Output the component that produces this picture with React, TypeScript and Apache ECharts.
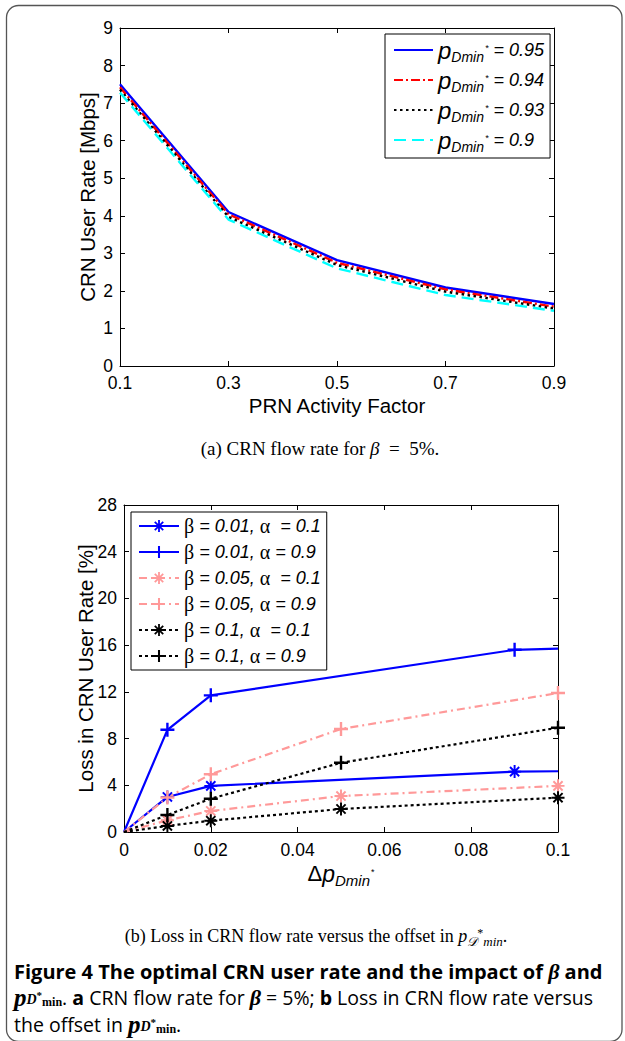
import React, { useEffect, useRef } from "react";
import * as echarts from "echarts";

// ---------- Data: panel (a) ----------
const activityFactor = [0.1, 0.3, 0.5, 0.7, 0.9];
const activityTicks = [0.1, 0.3, 0.5, 0.7, 0.9];
const rate095 = [7.5, 4.1, 2.82, 2.09, 1.65];
const rate094 = [7.42, 4.04, 2.75, 2.04, 1.58];
const rate093 = [7.36, 3.97, 2.69, 1.98, 1.53];
const rate090 = [7.28, 3.9, 2.6, 1.89, 1.47];
const topLegendValues = ["0.95", "0.94", "0.93", "0.9"];

// ---------- Data: panel (b) ----------
const offsetBlue = [0, 0.01, 0.02, 0.09, 0.1];
const offsetOther = [0, 0.01, 0.02, 0.05, 0.1];
const lossB001A01 = [0, 3.0, 3.95, 5.17, 5.2];
const lossB001A09 = [0, 8.75, 11.7, 15.6, 15.7];
const lossB005A01 = [0, 1.0, 1.8, 3.08, 3.95];
const lossB005A09 = [0, 2.95, 4.95, 8.82, 11.9];
const lossB01A01 = [0, 0.52, 0.97, 1.97, 2.94];
const lossB01A09 = [0, 1.46, 2.85, 5.93, 8.93];
const markedBlue = [false, true, true, true, false];
const markedOther = [false, true, true, true, true];
const bottomLegendNames = [
  "β = 0.01, α  = 0.1",
  "β = 0.01, α = 0.9",
  "β = 0.05, α  = 0.1",
  "β = 0.05, α = 0.9",
  "β = 0.1, α  = 0.1",
  "β = 0.1, α = 0.9",
];

const FONT = "'Liberation Sans', Arial, Helvetica, sans-serif";
const SERIF = "'Liberation Serif', 'Times New Roman', serif";
const CAP = "'Open Sans', Lato, sans-serif";

const PLUS =
  "path://M-1.7,-10L1.7,-10L1.7,-1.7L10,-1.7L10,1.7L1.7,1.7L1.7,10L-1.7,10L-1.7,1.7L-10,1.7L-10,-1.7L-1.7,-1.7Z";
const ASTER =
  "path://M-10,-1.5L10,-1.5L10,1.5L-10,1.5Z M-1.5,-10L1.5,-10L1.5,10L-1.5,10Z M-6,-8.1L8.1,6L6,8.1L-8.1,-6Z M8.1,-6L-6,8.1L-8.1,6L6,-8.1Z";

const BLUE = "#0000ff";
const PINK = "#ff9999";

function pairs(xs: number[], ys: number[], marked?: boolean[]) {
  return ys.map((y, i) => {
    const item: any = { value: [xs[i], y] };
    if (marked && !marked[i]) item.symbol = "none";
    return item;
  });
}

function axisCommon(extra: any) {
  return {
    type: "value",
    splitLine: { show: false },
    axisLine: { show: true, onZero: false, lineStyle: { color: "#000", width: 1 } },
    axisTick: { show: true, inside: true, length: 5, lineStyle: { color: "#000", width: 1 } },
    axisLabel: { color: "#000", fontSize: 17, fontFamily: FONT },
    nameMoveOverlap: false,
    ...extra,
  };
}

const capRich = {
  pp: { fontFamily: SERIF, fontWeight: "bold", fontStyle: "italic", fontSize: 25, color: "#000" },
  sd: { fontFamily: SERIF, fontWeight: "bold", fontStyle: "italic", fontSize: 14, color: "#000", padding: [5, 0, 0, 0] },
  st: { fontFamily: SERIF, fontWeight: "bold", fontSize: 11, color: "#000", padding: [0, 0, 5, 0] },
  sm: { fontFamily: SERIF, fontWeight: "bold", fontSize: 12, color: "#000", padding: [9, 0, 0, 0] },
  r: { fontFamily: CAP, fontSize: 19.5, color: "#000" },
  b: { fontFamily: CAP, fontWeight: "bold", fontSize: 19.5, color: "#000" },
  bi: { fontFamily: SERIF, fontWeight: "bold", fontStyle: "italic", fontSize: 22, color: "#000" },
};

function buildOption() {
  const topDefs = [
    { name: topLegendValues[0], data: rate095, color: BLUE, type: "solid" as any },
    { name: topLegendValues[1], data: rate094, color: "#ff0000", type: [9, 3, 2, 3] },
    { name: topLegendValues[2], data: rate093, color: "#000000", type: [2.5, 3.5] },
    { name: topLegendValues[3], data: rate090, color: "#00ffff", type: [12, 6] },
  ];
  const topSeries = topDefs.map((d) => ({
    type: "line",
    name: d.name,
    xAxisIndex: 0,
    yAxisIndex: 0,
    data: pairs(activityFactor, d.data),
    symbol: "none",
    color: d.color,
    lineStyle: { color: d.color, width: 2.4, type: d.type },
    z: 3,
  }));

  const bottomDefs = [
    { name: bottomLegendNames[0], xs: offsetBlue, ys: lossB001A01, m: markedBlue, color: BLUE, type: "solid" as any, sym: ASTER, size: 13 },
    { name: bottomLegendNames[1], xs: offsetBlue, ys: lossB001A09, m: markedBlue, color: BLUE, type: "solid" as any, sym: PLUS, size: 14 },
    { name: bottomLegendNames[2], xs: offsetOther, ys: lossB005A01, m: markedOther, color: PINK, type: [8, 4, 2, 4], sym: ASTER, size: 13 },
    { name: bottomLegendNames[3], xs: offsetOther, ys: lossB005A09, m: markedOther, color: PINK, type: [8, 4, 2, 4], sym: PLUS, size: 14 },
    { name: bottomLegendNames[4], xs: offsetOther, ys: lossB01A01, m: markedOther, color: "#000000", type: [3, 3], sym: ASTER, size: 13 },
    { name: bottomLegendNames[5], xs: offsetOther, ys: lossB01A09, m: markedOther, color: "#000000", type: [3, 3], sym: PLUS, size: 14 },
  ];
  const bottomSeries = bottomDefs.map((d) => ({
    type: "line",
    name: d.name,
    xAxisIndex: 2,
    yAxisIndex: 2,
    data: pairs(d.xs, d.ys, d.m),
    symbol: d.sym,
    symbolSize: d.size,
    showAllSymbol: true,
    color: d.color,
    itemStyle: { color: d.color, borderColor: d.color, borderWidth: 0 },
    lineStyle: { color: d.color, width: 2.2, type: d.type },
    z: 3,
  }));

  const subRich = {
    p: { fontFamily: FONT, fontStyle: "italic", fontSize: 24, color: "#000" },
    s: { fontFamily: FONT, fontStyle: "italic", fontSize: 14, color: "#000", padding: [14, 0, 0, 0] },
    st: { fontFamily: FONT, fontSize: 9, color: "#000", padding: [0, 0, 4, 1] },
    t: { fontFamily: FONT, fontStyle: "italic", fontSize: 18, color: "#000" },
  };

  return {
    animation: false,
    backgroundColor: "#fff",
    grid: [
      { left: 120, top: 28, width: 434, height: 338, containLabel: false },
      { left: 124, top: 505, width: 434, height: 327, containLabel: false },
    ],
    xAxis: [
      axisCommon({
        gridIndex: 0,
        position: "bottom",
        min: 0.1,
        max: 0.9,
        axisTick: { show: true, inside: true, length: 5, customValues: activityTicks, lineStyle: { color: "#000" } },
        axisLabel: { color: "#000", fontSize: 17.5, fontFamily: FONT, margin: 8, customValues: activityTicks },
        name: "PRN Activity Factor",
        nameLocation: "middle",
        nameGap: 29,
        nameTextStyle: { color: "#000", fontSize: 20.5, fontFamily: FONT },
      }),
      axisCommon({
        gridIndex: 0,
        position: "top",
        min: 0.1,
        max: 0.9,
        axisTick: { show: true, inside: true, length: 5, customValues: activityTicks, lineStyle: { color: "#000" } },
        axisLabel: { show: false },
      }),
      axisCommon({
        gridIndex: 1,
        position: "bottom",
        min: 0,
        max: 0.1,
        interval: 0.02,
        axisLabel: { color: "#000", fontSize: 17.5, fontFamily: FONT, margin: 9 },
        name: "{d|Δ}{p|p}{s|Dmin}{st|*}",
        nameLocation: "middle",
        nameGap: 27,
        nameTextStyle: {
          color: "#000",
          fontSize: 20,
          fontFamily: FONT,
          rich: {
            d: { fontFamily: FONT, fontSize: 22, color: "#000" },
            p: { fontFamily: FONT, fontStyle: "italic", fontSize: 23, color: "#000" },
            s: { fontFamily: FONT, fontStyle: "italic", fontSize: 15, color: "#000", padding: [14, 0, 0, 0] },
            st: { fontFamily: FONT, fontSize: 9, color: "#000", padding: [0, 0, 4, 1] },
          },
        },
      }),
      axisCommon({
        gridIndex: 1,
        position: "top",
        min: 0,
        max: 0.1,
        interval: 0.02,
        axisLabel: { show: false },
      }),
    ],
    yAxis: [
      axisCommon({
        gridIndex: 0,
        position: "left",
        min: 0,
        max: 9,
        interval: 1,
        axisLabel: { color: "#000", fontSize: 17.5, fontFamily: FONT, margin: 7 },
        name: "CRN User Rate [Mbps]",
        nameLocation: "middle",
        nameGap: 22,
        nameTextStyle: { color: "#000", fontSize: 20.5, fontFamily: FONT },
      }),
      axisCommon({ gridIndex: 0, position: "right", min: 0, max: 9, interval: 1, axisLabel: { show: false } }),
      axisCommon({
        gridIndex: 1,
        position: "left",
        min: 0,
        max: 28,
        interval: 4,
        axisLabel: { color: "#000", fontSize: 17.5, fontFamily: FONT, margin: 7 },
        name: "Loss in CRN User Rate [%]",
        nameLocation: "middle",
        nameGap: 28,
        nameTextStyle: { color: "#000", fontSize: 20.5, fontFamily: FONT },
      }),
      axisCommon({ gridIndex: 1, position: "right", min: 0, max: 28, interval: 4, axisLabel: { show: false } }),
    ],
    legend: [
      {
        orient: "vertical",
        left: 385,
        top: 34,
        itemWidth: 39,
        itemHeight: 14,
        itemGap: 4,
        padding: [4, 6, 4, 8],
        backgroundColor: "#fff",
        borderColor: "#000",
        borderWidth: 1,
        borderRadius: 0,
        selectedMode: false,
        data: topLegendValues,
        itemStyle: { opacity: 0 },
        formatter: (n: string) => `{p|p}{s|Dmin}{st|*}{t| = ${n}}`,
        textStyle: { color: "#000", fontFamily: FONT, fontStyle: "italic", fontSize: 18, rich: subRich },
      },
      {
        orient: "vertical",
        left: 131,
        top: 512,
        itemWidth: 40,
        itemHeight: 15,
        itemGap: 6,
        padding: [4, 6, 4, 7],
        backgroundColor: "#fff",
        borderColor: "#000",
        borderWidth: 1,
        borderRadius: 0,
        selectedMode: false,
        data: bottomLegendNames,
        formatter: (n: string) =>
          n
            .split(/(β|α)/)
            .filter((s) => s.length > 0)
            .map((s) => (s === "β" || s === "α" ? `{g|${s}}` : `{t|${s}}`))
            .join(""),
        textStyle: {
          color: "#000",
          fontFamily: FONT,
          fontSize: 18,
          rich: {
            g: { fontFamily: SERIF, fontSize: 20, color: "#000", lineHeight: 19 },
            t: { fontFamily: FONT, fontStyle: "italic", fontSize: 18, color: "#000", lineHeight: 19 },
          },
        },
      },
    ],
    series: [...topSeries, ...bottomSeries],
    graphic: [
      {
        type: "rect",
        silent: true,
        z: -10,
        shape: { x: 6.5, y: 5.5, width: 615.5, height: 1036, r: 12 },
        style: { fill: "none", stroke: "#555", lineWidth: 1.3 },
      },
      {
        type: "text",
        x: 320,
        y: 448,
        style: {
          text: "{n|(a) CRN flow rate for }{i|β}{n|  =  5%.}",
          align: "center",
          verticalAlign: "middle",
          rich: {
            n: { fontFamily: SERIF, fontSize: 19, color: "#000" },
            i: { fontFamily: SERIF, fontStyle: "italic", fontSize: 19, color: "#000" },
          },
        },
      },
      {
        type: "text",
        x: 316,
        y: 936,
        style: {
          text: "{n|(b) Loss in CRN flow rate versus the offset in }{i|p}{s|𝒟}{st|*}{s|min}{n|.}",
          align: "center",
          verticalAlign: "middle",
          rich: {
            n: { fontFamily: SERIF, fontSize: 18, color: "#000" },
            i: { fontFamily: SERIF, fontStyle: "italic", fontSize: 18, color: "#000" },
            s: { fontFamily: SERIF, fontStyle: "italic", fontSize: 13, color: "#000", padding: [11, 0, 0, 0] },
            st: { fontFamily: SERIF, fontSize: 12, color: "#000", padding: [0, 0, 6, 0] },
          },
        },
      },
      {
        type: "text",
        x: 14,
        y: 971,
        style: {
          text: "{b|Figure 4 The optimal CRN user rate and the impact of }{bi|β}{b| and}",
          align: "left",
          verticalAlign: "middle",
          rich: {
            b: { fontFamily: CAP, fontWeight: "bold", fontSize: 20, color: "#000" },
            bi: { fontFamily: SERIF, fontWeight: "bold", fontStyle: "italic", fontSize: 22, color: "#000" },
          },
        },
      },
      {
        type: "text",
        x: 14,
        y: 997,
        style: {
          text:
            "{pp|p}{sd|D}{st|*}{sm|min}{r|. }{b|a}{r| CRN flow rate for }{bi|β}{r| = 5%; }{b|b}{r| Loss in CRN flow rate versus}",
          align: "left",
          verticalAlign: "middle",
          rich: capRich,
        },
      },
      {
        type: "text",
        x: 14,
        y: 1024,
        style: {
          text: "{r|the offset in }{pp|p}{sd|D}{st|*}{sm|min}{r|.}",
          align: "left",
          verticalAlign: "middle",
          rich: capRich,
        },
      },
    ],
  };
}

export default function App() {
  const ref = useRef<HTMLDivElement>(null);
  useEffect(() => {
    if (!ref.current) return;
    const chart = echarts.init(ref.current, null, { renderer: "svg", width: 625, height: 1041 });
    chart.setOption(buildOption() as any);
    return () => chart.dispose();
  }, []);
  return (
    <div
      ref={ref}
      style={{ position: "absolute", left: 0, top: 0, width: 625, height: 1041, background: "#fff" }}
    />
  );
}
